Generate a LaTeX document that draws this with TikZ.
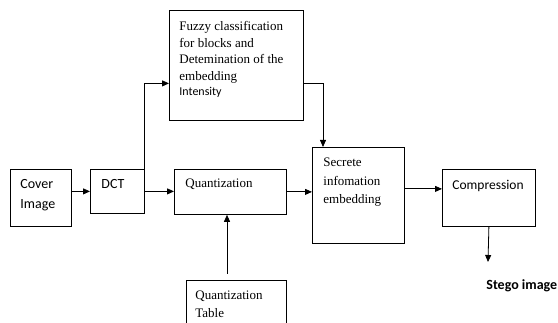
\documentclass[tikz,border=0pt]{standalone}
\usepackage{fontspec}
\setmainfont{Liberation Serif}
\setsansfont{Carlito}
\usetikzlibrary{arrows.meta}
\tikzset{
  blk/.style={draw, line width=.8pt, anchor=north west, inner sep=0pt},
  txt/.style={anchor=north west, inner sep=0pt, align=left},
  serif/.style={font=\fontsize{13}{16.7}\selectfont},
  sans/.style={font=\sffamily\fontsize{14}{20}\selectfont},
}
\begin{document}
\begin{tikzpicture}[x=1pt, y=-1pt, >={Triangle[length=7pt,width=6pt]}, line width=.8pt]
\clip (0,0) rectangle (558,323);
\node[blk, minimum width=61, minimum height=57,
  label={[txt, sans, xshift=10pt, yshift=-10pt]north west:Cover\\Image}] (cover) at (10,169) {};
\node[blk, minimum width=54, minimum height=44,
  label={[txt, sans, xshift=11pt, yshift=-10pt]north west:DCT}] (dct) at (90,169) {};
\node[blk, minimum width=134, minimum height=110,
  label={[txt, serif, xshift=10pt, yshift=-11pt]north west:Fuzzy classification\\for blocks and\\Detemination of the\\embedding\\[-2pt]{\sffamily\fontsize{12}{14}\selectfont Intensity}}] (fuzzy) at (169,10) {};
\node[blk, minimum width=112, minimum height=45,
  label={[txt, serif, xshift=11pt, yshift=-9.5pt]north west:Quantization}] (quant) at (174,169) {};
\node[blk, minimum width=100, minimum height=60,
  label={[txt, serif, font=\fontsize{13}{18}\selectfont, xshift=9pt, yshift=-10.5pt]north west:Quantization\\Table}] (table) at (186,280) {};
\node[blk, minimum width=92, minimum height=96,
  label={[txt, serif, font=\fontsize{13}{18.5}\selectfont, xshift=11pt, yshift=-10.5pt]north west:Secrete\\infomation\\embedding}] (secrete) at (312,147) {};
\node[blk, minimum width=93, minimum height=57,
  label={[txt, sans, font=\sffamily\fontsize{13.5}{18}\selectfont, xshift=10pt, yshift=-11pt]north west:Compression}] (comp) at (442,169) {};
\node[anchor=base west, inner sep=0pt, font=\sffamily\bfseries\fontsize{14}{16}\selectfont] (stego) at (486,290) {Stego image};
% free ends of the open arrows
\coordinate (tabletop) at (227,274);
\coordinate (stegoend) at (488,262);
\draw[->] (cover.east |- dct.west) -- (dct.west);
\draw[->] (dct.east) -- (dct.east -| quant.west);
\draw[->] (dct.north east) |- ([yshift=-18pt]fuzzy.west);
\draw[->] ([yshift=-18pt]fuzzy.east) -| ([xshift=11pt]secrete.north west);
\draw[->] (quant.east) -- (quant.east -| secrete.west);
\draw[->] (tabletop) -- (tabletop |- quant.south);
\draw[->] ([yshift=9pt]comp.west -| secrete.east) -- ([yshift=9pt]comp.west);
\draw[->] (comp.south) -- (stegoend);
\end{tikzpicture}
\end{document}
